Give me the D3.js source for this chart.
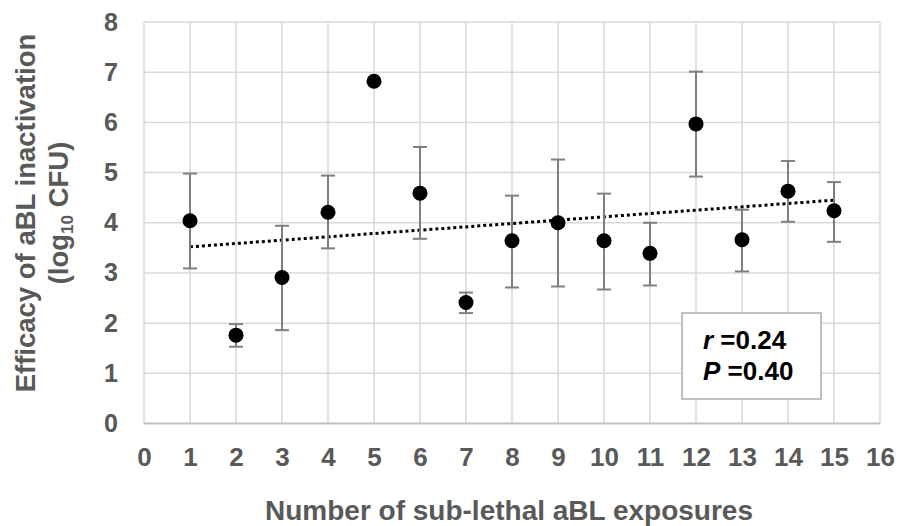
<!DOCTYPE html>
<html>
<head>
<meta charset="utf-8">
<script src="https://cdn.jsdelivr.net/npm/d3@7"></script>
<style>
  html, body { margin: 0; padding: 0; background: #fff; }
  svg { display: block; font-family: Arial, "Liberation Sans", sans-serif; }
</style>
</head>
<body>
<div id="chart"></div>
<script>
  // exposures (x) and mean efficacy with error bar ends (log10 CFU)
  const exposures = [1, 2, 3, 4, 5, 6, 7, 8, 9, 10, 11, 12, 13, 14, 15];
  const efficacy  = [4.04, 1.76, 2.91, 4.21, 6.82, 4.59, 2.41, 3.64, 4.00, 3.64, 3.39, 5.97, 3.66, 4.63, 4.24];
  const errHigh   = [4.98, 1.98, 3.94, 4.94, null, 5.51, 2.61, 4.54, 5.26, 4.58, 4.00, 7.01, 4.26, 5.23, 4.81];
  const errLow    = [3.09, 1.53, 1.86, 3.49, null, 3.68, 2.20, 2.71, 2.73, 2.67, 2.75, 4.92, 3.03, 4.02, 3.62];

  // linear trend line ends as drawn in the chart
  const trendX = [1, 15];
  const trendY = [3.52, 4.45];

  const xTicks = d3.range(0, 17);
  const yTicks = d3.range(0, 9);
  const statLines = [['r', ' =0.24'], ['P', ' =0.40']];

  const width = 899, height = 526;
  const margin = { top: 22, right: 19, bottom: 102.5, left: 144 };
  const innerW = width - margin.left - margin.right;
  const innerH = height - margin.top - margin.bottom;

  const grey = '#595959';
  const gridColor = '#d9d9d9';

  const svg = d3.select('#chart').append('svg')
    .attr('width', width)
    .attr('height', height);

  const g = svg.append('g')
    .attr('transform', `translate(${margin.left},${margin.top})`);

  const x = d3.scaleLinear().domain([0, 16]).range([0, innerW]);
  const y = d3.scaleLinear().domain([0, 8]).range([innerH, 0]);

  // gridlines
  g.append('g')
    .selectAll('line.vgrid')
    .data(xTicks)
    .join('line')
    .attr('x1', d => x(d)).attr('x2', d => x(d))
    .attr('y1', 0).attr('y2', innerH)
    .attr('stroke', gridColor)
    .attr('stroke-width', 1.5);

  g.append('g')
    .selectAll('line.hgrid')
    .data(yTicks)
    .join('line')
    .attr('x1', 0).attr('x2', innerW)
    .attr('y1', d => y(d)).attr('y2', d => y(d))
    .attr('stroke', d => d === 0 ? '#bfbfbf' : gridColor)
    .attr('stroke-width', d => d === 0 ? 2 : 1.5);

  // axes (labels only)
  const xAxis = g.append('g')
    .attr('transform', `translate(0,${innerH})`)
    .call(d3.axisBottom(x).tickValues(xTicks).tickSize(0).tickPadding(24).tickFormat(d3.format('d')));
  xAxis.select('.domain').remove();
  xAxis.selectAll('text')
    .attr('fill', grey)
    .attr('font-size', 26)
    .attr('font-weight', 'bold')
    .attr('font-family', 'Arial, "Liberation Sans", sans-serif');

  const yAxis = g.append('g')
    .call(d3.axisLeft(y).tickValues(yTicks).tickSize(0).tickPadding(26).tickFormat(d3.format('d')));
  yAxis.select('.domain').remove();
  yAxis.selectAll('text')
    .attr('fill', grey)
    .attr('font-size', 25)
    .attr('font-weight', 'bold')
    .attr('font-family', 'Arial, "Liberation Sans", sans-serif');

  // trend line
  g.append('line')
    .attr('x1', x(trendX[0])).attr('y1', y(trendY[0]))
    .attr('x2', x(trendX[1])).attr('y2', y(trendY[1]))
    .attr('stroke', '#000')
    .attr('stroke-width', 3)
    .attr('stroke-dasharray', '3,3');

  const points = exposures.map((e, i) => ({
    x: e, y: efficacy[i], hi: errHigh[i], lo: errLow[i]
  }));

  // error bars
  const bars = g.append('g')
    .attr('stroke', '#7f7f7f')
    .attr('stroke-width', 2)
    .selectAll('g')
    .data(points.filter(d => d.hi !== null))
    .join('g');

  bars.append('line')
    .attr('x1', d => x(d.x)).attr('x2', d => x(d.x))
    .attr('y1', d => y(d.hi)).attr('y2', d => y(d.lo));
  bars.append('line')
    .attr('x1', d => x(d.x) - 7).attr('x2', d => x(d.x) + 7)
    .attr('y1', d => y(d.hi)).attr('y2', d => y(d.hi));
  bars.append('line')
    .attr('x1', d => x(d.x) - 7).attr('x2', d => x(d.x) + 7)
    .attr('y1', d => y(d.lo)).attr('y2', d => y(d.lo));

  // points
  g.append('g')
    .selectAll('circle')
    .data(points)
    .join('circle')
    .attr('cx', d => x(d.x))
    .attr('cy', d => y(d.y))
    .attr('r', 7.5)
    .attr('fill', '#000');

  // stats box
  const box = svg.append('g').attr('transform', 'translate(682,313)');
  box.append('rect')
    .attr('width', 139)
    .attr('height', 86)
    .attr('fill', '#fff')
    .attr('stroke', '#bfbfbf')
    .attr('stroke-width', 2);
  box.selectAll('text')
    .data(statLines)
    .join('text')
    .attr('x', 21)
    .attr('y', (d, i) => 36 + i * 31)
    .attr('font-size', 26)
    .attr('font-weight', 'bold')
    .attr('fill', '#000')
    .each(function(d) {
      const t = d3.select(this);
      t.append('tspan').attr('font-style', 'italic').text(d[0]);
      t.append('tspan').text(d[1]);
    });

  // axis titles
  svg.append('text')
    .attr('x', margin.left + innerW / 2 - 3)
    .attr('y', 520)
    .attr('text-anchor', 'middle')
    .attr('font-size', 28)
    .attr('font-weight', 'bold')
    .attr('fill', grey)
    .text('Number of sub-lethal aBL exposures');

  const yTitle = svg.append('text')
    .attr('transform', 'translate(0,213) rotate(-90)')
    .attr('text-anchor', 'middle')
    .attr('font-size', 27.5)
    .attr('font-weight', 'bold')
    .attr('fill', grey);
  yTitle.append('tspan')
    .attr('x', 0).attr('y', 35)
    .text('Efficacy of aBL inactivation');
  const line2 = yTitle.append('tspan')
    .attr('x', 0).attr('y', 68);
  line2.text('(log');
  yTitle.append('tspan').attr('font-size', 17).attr('dy', 5).text('10');
  yTitle.append('tspan').attr('dy', -5).text(' CFU)');
</script>
</body>
</html>
